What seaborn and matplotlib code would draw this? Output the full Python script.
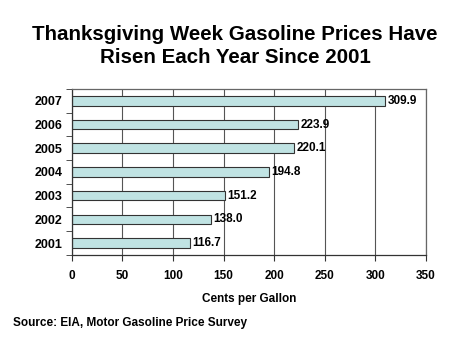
import matplotlib
matplotlib.use("Agg")
import matplotlib.pyplot as plt
import seaborn as sns
import pandas as pd

# data
years = ["2007", "2006", "2005", "2004", "2003", "2002", "2001"]
cents = [309.9, 223.9, 220.1, 194.8, 151.2, 138.0, 116.7]
x_ticks = [0, 50, 100, 150, 200, 250, 300, 350]

df = pd.DataFrame({"year": years, "cents": cents})

sns.set_style("white")
plt.rcParams["font.family"] = ["Liberation Sans", "DejaVu Sans"]
plt.rcParams["text.color"] = "black"
plt.rcParams["xtick.color"] = "#333333"
plt.rcParams["ytick.color"] = "#333333"
plt.rcParams["xtick.labelcolor"] = "black"
plt.rcParams["ytick.labelcolor"] = "black"
plt.rcParams["axes.labelcolor"] = "black"

fig = plt.figure(figsize=(4.7, 3.53), dpi=100)
ax = fig.add_axes([0.153, 0.278, 0.753, 0.470])

sns.barplot(data=df, x="cents", y="year", order=years, orient="h",
            color="#c0e3e3", edgecolor="#333333", linewidth=0.8,
            width=0.4, saturation=1, ax=ax)

for i, v in enumerate(cents):
    ax.text(v + 2, i, f"{v:.1f}", va="center", ha="left",
            fontsize=8.5, fontweight="bold")

ax.set_xlim(0, 350)
ax.set_ylim(6.5, -0.5)
ax.set_xticks(x_ticks)
ax.set_xticklabels([str(t) for t in x_ticks], fontsize=8.5, fontweight="bold")
ax.set_yticks(range(len(years)))
ax.set_yticklabels(years, fontsize=9, fontweight="bold")
ax.set_yticks([i + 0.5 for i in range(-1, len(years))], minor=True)
ax.tick_params(axis="y", which="major", left=True, length=0, pad=7)
ax.tick_params(axis="y", which="minor", left=True, length=4, direction="out")
ax.tick_params(axis="x", bottom=True, length=4, direction="out", pad=7)

ax.grid(axis="x", color="#555555", linewidth=0.8)
ax.set_axisbelow(True)
for s in ax.spines.values():
    s.set_color("#666666")
    s.set_linewidth(0.9)
ax.spines["left"].set_color("#333333")
ax.spines["bottom"].set_color("#333333")

ax.set_xlabel("Cents per Gallon", fontsize=8.5, fontweight="bold", labelpad=8)
ax.set_ylabel("")

fig.text(0.5, 0.87, "Thanksgiving Week Gasoline Prices Have\nRisen Each Year Since 2001",
         ha="center", va="center", fontsize=14.8, fontweight="bold", linespacing=1.3)
fig.text(0.028, 0.085, "Source: EIA, Motor Gasoline Price Survey",
         ha="left", va="center", fontsize=8.5, fontweight="bold")

fig.savefig("out.png", dpi=100)
